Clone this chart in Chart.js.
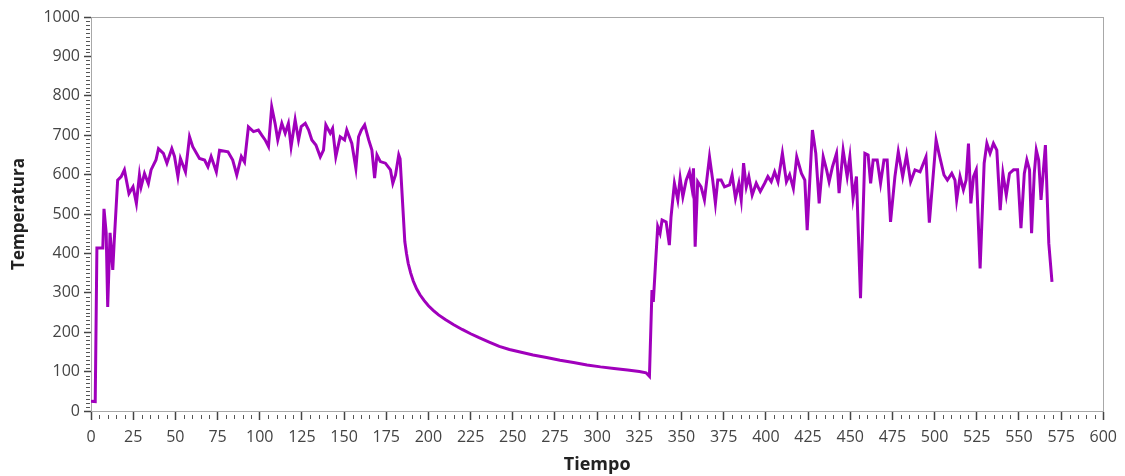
<!DOCTYPE html>
<html>
<head>
<meta charset="utf-8">
<script src="https://cdn.jsdelivr.net/npm/chart.js@4/dist/chart.umd.min.js"></script>
<style>
  html, body { margin: 0; padding: 0; background: #ffffff; }
  #wrap { width: 1125px; height: 476px; position: relative; }
</style>
</head>
<body>
<div id="wrap"><canvas id="c" width="1125" height="476"></canvas></div>
<script>
// ---- Data ----
const tiempo = [
  0, 2.5, 3.5, 7, 7.7, 9, 9.9, 11.3, 12.9, 13.8, 15.8, 17.9, 19.8, 22.5, 24.9, 26.9, 28.7, 29.7, 31.7, 34,
  35.6, 38.5, 40, 42.9, 45, 47.9, 49.5, 51.5, 53, 56, 58.4, 60.3, 64.3, 67.3, 69.3, 71.2, 74.3, 76.2, 81.2, 84,
  86.4, 89.1, 91, 93.3, 96.3, 99.2, 101.2, 103.2, 105.2, 107.1, 109.1, 110.7, 113.1, 115.1, 117, 118.6, 121, 123, 124.6, 127,
  129, 130.9, 133.3, 135.9, 137.8, 139.2, 141.8, 143.2, 145.1, 147.7, 150.3, 151.6, 154.6, 157, 158.6, 160.2, 162.2, 164.6, 166.5, 168.1,
  169.5, 171.5, 174.5, 177.5, 178.9, 180.5, 182.4, 183.2, 186, 187, 188, 189.5, 191, 193, 195, 197.5,
  200, 203, 206, 210, 215, 220, 225, 230, 236, 242, 248, 255, 262, 270, 278, 286, 294, 302, 310, 318,
  325, 329, 331, 332.5, 333.3, 334.5, 335.9, 337.3, 338.5, 340.9, 342.8, 343.8, 345.8,
  347.8, 349.2, 350.8, 352.8, 354.7, 356.1, 357.1, 358.1, 359.6, 361.6, 363.6, 366.6, 368.5, 370.1, 371.5, 373.5, 375.5, 378.5, 380, 382,
  384, 385.4, 386.8, 388.4, 389.9, 391.9, 394.3, 396.7, 399.3, 401.2, 403.2, 405.2, 407.2, 409.8, 412.2, 414.1, 416.3, 418.3, 421.1, 423.1,
  424.5, 427.6, 429.6, 431.6, 434, 436, 437.5, 439.5, 441.9, 443.4, 445.8, 448.2, 449.8, 451.7, 453.7, 456.1, 458.7, 460.6, 462.1, 463.6,
  466, 468, 470, 471.9, 473.9, 476.5, 478.5, 481.1, 483.4, 485.8, 488.4, 491.4, 494.9, 496.9, 500.9, 502.8, 505.6, 507.6, 510.2, 512.1,
  513.1, 515.1, 517.1, 518.7, 520.1, 521.5, 523.1, 524.7, 527, 529.4, 531, 532.9, 534.9, 536.9, 538.9, 540.5, 542.5, 544.4, 546.8, 549.2,
  551.2, 553.2, 554.7, 556.3, 557.5, 559.1, 560.3, 561.7, 563.1, 565.7, 567.7, 569.6
];
const temperatura = [
  25, 24, 414, 414, 513, 452, 264, 452, 358, 434, 586, 595, 612, 552, 569, 527, 599, 569, 603, 577,
  612, 637, 666, 654, 629, 666, 646, 595, 641, 607, 696, 671, 641, 637, 620, 646, 607, 662, 658, 637,
  599, 646, 632, 721, 709, 713, 700, 688, 671, 772, 730, 688, 730, 705, 730, 671, 739, 688, 722, 730,
  713, 688, 675, 645, 662, 726, 705, 717, 645, 696, 688, 713, 679, 616, 696, 713, 726, 688, 662, 591,
  650, 633, 629, 612, 578, 599, 650, 640, 430, 400, 375, 350, 330, 310, 295, 280,
  267, 255, 244, 232, 219, 207, 196, 186, 175, 164, 156, 149, 142, 136, 129, 123, 117, 112, 108, 104,
  100, 97, 88, 307, 277, 366, 468, 451, 485, 480, 421, 493, 578,
  536, 591, 544, 586, 607, 569, 616, 417, 582, 569, 536, 645, 586, 527, 586, 586, 569, 574, 599, 540,
  578, 536, 629, 569, 595, 548, 578, 557, 578, 595, 582, 607, 582, 654, 582, 600, 565, 645, 603, 586,
  459, 713, 654, 527, 645, 612, 582, 620, 654, 553, 662, 595, 645, 540, 595, 286, 654, 650, 578, 637,
  637, 578, 637, 637, 480, 595, 658, 595, 650, 582, 612, 607, 645, 478, 688, 650, 599, 586, 603, 586,
  536, 595, 561, 586, 679, 527, 595, 612, 362, 629, 679, 654, 679, 662, 510, 603, 548, 603, 612, 612,
  464, 603, 637, 612, 451, 603, 662, 637, 536, 675, 426, 328
];
const xTicks = { min: 0, max: 600, major: 25, minor: 5 };
const yTicks = { min: 0, max: 1000, major: 100, minor: 10 };
const xTitle = 'Tiempo';
const yTitle = 'Temperatura';

const points = tiempo.map((t, i) => ({ x: t, y: temperatura[i] }));

Chart.defaults.font.family = "'Open Sans', 'Noto Sans', 'DejaVu Sans', sans-serif";

const frameAndMinorTicks = {
  id: 'frameAndMinorTicks',
  beforeDatasetsDraw(chart) {
    const { ctx, chartArea: a } = chart;
    ctx.save();
    ctx.strokeStyle = '#a8a8a8';
    ctx.lineWidth = 1;
    ctx.strokeRect(Math.round(a.left) + 0.5, Math.round(a.top) + 0.5,
                   Math.round(a.right - a.left), Math.round(a.bottom - a.top));
    ctx.restore();
  },
  afterDraw(chart) {
    const { ctx, chartArea: a } = chart;
    const xs = chart.scales.x, ys = chart.scales.y;
    ctx.save();
    ctx.strokeStyle = '#555';
    ctx.lineWidth = 1;
    ctx.beginPath();
    for (let v = xTicks.min; v <= xTicks.max; v += xTicks.minor) {
      if (v % xTicks.major === 0) continue;
      const px = Math.round(xs.getPixelForValue(v)) + 0.5;
      ctx.moveTo(px, a.bottom + 4);
      ctx.lineTo(px, a.bottom + 8);
    }
    for (let v = yTicks.min; v <= yTicks.max; v += yTicks.minor) {
      if (v % yTicks.major === 0) continue;
      const py = Math.round(ys.getPixelForValue(v)) + 0.5;
      ctx.moveTo(a.left - 5, py);
      ctx.lineTo(a.left - 1, py);
    }
    ctx.stroke();
    ctx.restore();
  }
};

new Chart(document.getElementById('c'), {
  type: 'line',
  data: {
    datasets: [{
      data: points,
      borderColor: '#a000bc',
      borderWidth: 3,
      pointRadius: 0,
      tension: 0,
      fill: false
    }]
  },
  options: {
    responsive: false,
    animation: false,
    layout: { padding: { left: 9, right: 20, top: 17, bottom: 0 } },
    plugins: { legend: { display: false }, tooltip: { enabled: false } },
    scales: {
      x: {
        type: 'linear',
        min: xTicks.min, max: xTicks.max,
        afterFit: s => { s.height = 65; },
        border: { display: true, color: '#a8a8a8', width: 1 },
        grid: { drawOnChartArea: false, tickLength: 9, tickColor: '#444', tickWidth: 1.5 },
        ticks: { stepSize: xTicks.major, autoSkip: false, maxRotation: 0, padding: 8,
                 color: '#444', font: { size: 16 }, callback: v => String(v) },
        title: { display: true, text: xTitle, color: '#222',
                 font: { size: 18, weight: 'bold' }, padding: { top: 0, bottom: 0 } }
      },
      y: {
        type: 'linear',
        min: yTicks.min, max: yTicks.max,
        afterFit: s => { s.width = 82; },
        border: { display: true, color: '#555', width: 1 },
        grid: { drawOnChartArea: false, tickLength: 7, tickColor: '#444', tickWidth: 1.5 },
        ticks: { stepSize: yTicks.major, autoSkip: false, padding: 4,
                 color: '#444', font: { size: 16 }, callback: v => String(v) },
        title: { display: true, text: yTitle, color: '#222',
                 font: { size: 17, weight: 'bold' }, padding: { top: 0, bottom: 4 } }
      }
    }
  },
  plugins: [frameAndMinorTicks]
});
</script>
</body>
</html>
